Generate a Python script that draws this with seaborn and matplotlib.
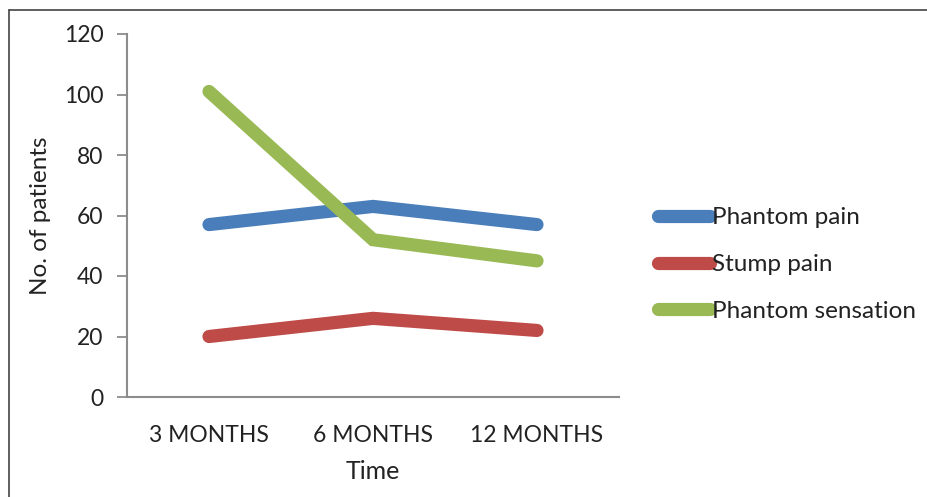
import matplotlib
matplotlib.use("Agg")
import matplotlib.pyplot as plt
from matplotlib.lines import Line2D
import seaborn as sns
import pandas as pd

# Follow-up time points and patient counts per complaint
time_points = ["3 MONTHS", "6 MONTHS", "12 MONTHS"]
phantom_pain = [57, 63, 57]
stump_pain = [20, 26, 22]
phantom_sensation = [101, 52, 45]
series_names = ["Phantom pain", "Stump pain", "Phantom sensation"]
series_colors = ["#4A7EBB", "#BE4B48", "#98B954"]
y_ticks = [0, 20, 40, 60, 80, 100, 120]

rows = []
for name, values in zip(series_names, [phantom_pain, stump_pain, phantom_sensation]):
    for i, (t, v) in enumerate(zip(time_points, values)):
        rows.append({"idx": i, "Time": t, "Count": v, "Series": name})
df = pd.DataFrame(rows)

sns.set_theme(style="white")
plt.rcParams["font.family"] = ["Lato", "DejaVu Sans"]

fig = plt.figure(figsize=(9.27, 4.97), dpi=100)
ax = fig.add_axes([127 / 927, 1 - 397 / 497, (619 - 127) / 927, (397 - 34) / 497])

sns.lineplot(
    data=df, x="idx", y="Count", hue="Series", hue_order=series_names,
    palette=dict(zip(series_names, series_colors)), sort=False,
    linewidth=9.5, ax=ax, legend=False,
)
for line in ax.get_lines():
    line.set_solid_capstyle("round")
    line.set_solid_joinstyle("miter")

ax.set_xlim(-0.5, len(time_points) - 0.5)
ax.set_ylim(0, 120)
ax.set_xticks(range(len(time_points)))
ax.set_xticklabels(time_points)
ax.set_yticks(y_ticks)
ax.tick_params(axis="y", length=7, width=1.3, color="#8C8C8C", direction="out",
               labelsize=16.5, labelcolor="#222222", pad=10, left=True)
ax.tick_params(axis="x", length=0, labelsize=16.5, labelcolor="#222222", pad=20)

for side in ["top", "right"]:
    ax.spines[side].set_visible(False)
for side in ["left", "bottom"]:
    ax.spines[side].set_color("#8C8C8C")
    ax.spines[side].set_linewidth(1.5)

ax.set_xlabel("Time", fontsize=18, color="#222222", labelpad=10)
ax.set_ylabel("No. of patients", fontsize=17.5, color="#222222", labelpad=9)

handles = [Line2D([0], [0], color=c, lw=9.5, solid_capstyle="round") for c in series_colors]
ax.legend(handles, series_names, loc="center left", bbox_to_anchor=(1.06, 0.365),
          frameon=False, fontsize=17.5, handlelength=2.15, handletextpad=0.05,
          labelspacing=1.05, borderaxespad=0, labelcolor="#222222")

# Frame lines around the chart area
fig.add_artist(Line2D([9 / 927, 1.0], [1 - 10 / 497, 1 - 10 / 497],
                      transform=fig.transFigure, color="#444444", lw=1.2))
fig.add_artist(Line2D([9 / 927, 9 / 927], [0.0, 1 - 10 / 497],
                      transform=fig.transFigure, color="#444444", lw=1.2))

fig.savefig("out.png", dpi=100)
